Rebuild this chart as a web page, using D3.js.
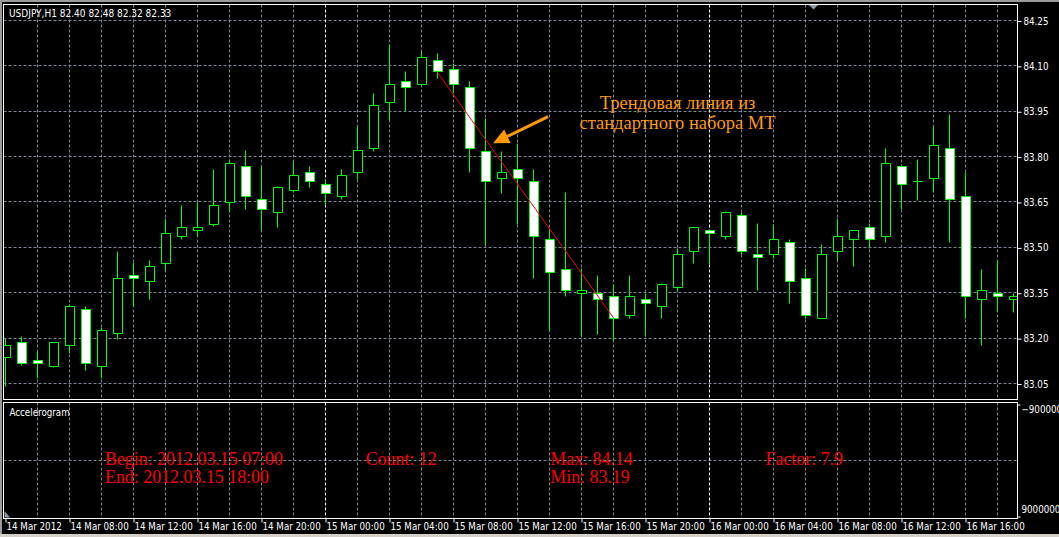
<!DOCTYPE html>
<html><head><meta charset="utf-8">
<script src="https://cdn.jsdelivr.net/npm/d3@7"></script>
<style>body{margin:0;background:#000;overflow:hidden} svg{display:block}</style>
</head><body>
<svg id="c" width="1059" height="537"></svg>
<script>
// ---------- DATA ----------
const headerText = "USDJPY,H1  82.40 82.48 82.32 82.33";
const indicatorName = "Accelerogram";
// hourly bars, index 0 = 14 Mar 2012 04:00
const openP  = [83.136,83.184,83.126,83.105,83.176,83.296,83.105,83.215,83.406,83.388,
                83.447,83.535,83.556,83.575,83.648,83.769,83.659,83.615,83.687,83.748,
                83.708,83.667,83.747,83.828,83.980,84.050,84.040,84.119,84.089,84.028,
                83.816,83.728,83.758,83.717,83.526,83.427,83.348,83.348,83.338,83.274,
                83.328,83.303,83.368,83.487,83.556,83.535,83.606,83.477,83.477,83.516,
                83.397,83.265,83.487,83.526,83.566,83.535,83.769,83.717,83.728,83.828,
                83.667,83.328,83.348,83.328];
const highP  = [83.199,83.207,83.156,83.187,83.311,83.306,83.235,83.487,83.450,83.458,
                83.596,83.637,83.647,83.759,83.789,83.819,83.767,83.700,83.783,83.769,
                83.723,83.759,83.899,84.010,84.170,84.081,84.148,84.140,84.109,84.050,
                83.927,83.816,83.844,83.758,83.559,83.681,83.431,83.408,83.378,83.408,
                83.348,83.379,83.497,83.567,83.557,83.617,83.615,83.578,83.576,83.526,
                83.431,83.508,83.596,83.557,83.579,83.828,83.770,83.789,83.901,83.939,
                83.748,83.428,83.458,83.348];
const lowP   = [83.039,83.110,83.067,83.104,83.149,83.094,83.067,83.196,83.306,83.328,
                83.425,83.525,83.535,83.570,83.615,83.626,83.555,83.566,83.680,83.699,
                83.640,83.659,83.723,83.816,83.920,83.949,84.039,84.059,84.010,83.747,
                83.505,83.679,83.574,83.397,83.226,83.337,83.204,83.213,83.190,83.265,
                83.210,83.265,83.356,83.447,83.445,83.525,83.477,83.356,83.464,83.315,
                83.265,83.264,83.456,83.436,83.497,83.515,83.626,83.656,83.681,83.515,
                83.265,83.174,83.287,83.284];
const closeP = [83.177,83.116,83.116,83.186,83.305,83.116,83.225,83.397,83.397,83.437,
                83.546,83.566,83.566,83.637,83.778,83.667,83.626,83.699,83.738,83.717,
                83.679,83.738,83.819,83.968,84.040,84.029,84.129,84.080,84.040,83.828,
                83.718,83.748,83.728,83.535,83.417,83.358,83.359,83.328,83.265,83.338,
                83.315,83.378,83.477,83.566,83.546,83.616,83.487,83.467,83.526,83.388,
                83.275,83.477,83.536,83.556,83.526,83.778,83.708,83.717,83.838,83.659,
                83.337,83.359,83.337,83.339];
const priceTicks = [84.25,84.10,83.95,83.80,83.65,83.50,83.35,83.20,83.05];
const timeTickIdx = [0,4,8,12,16,20,24,28,32,36,40,44,48,52,56,60];
const timeTickLabels = ["14 Mar 2012","14 Mar 08:00","14 Mar 12:00","14 Mar 16:00","14 Mar 20:00",
  "15 Mar 00:00","15 Mar 04:00","15 Mar 08:00","15 Mar 12:00","15 Mar 16:00","15 Mar 20:00",
  "16 Mar 00:00","16 Mar 04:00","16 Mar 08:00","16 Mar 12:00","16 Mar 16:00"];
const daySeparatorIdx = [20,44];
const indicatorTicks = [-9000000, 9000000];
const trendIdx = [27, 38];
const trendPrice = [84.078, 83.267];
const arrowIdx = [33.91, 30.47];
const arrowPrice = [83.932, 83.844];
const noteLines = ["Трендовая линия из", "стандартного набора МТ"];
const noteIdx = 42;
const notePrice = [83.958, 83.891];
const statsLine1 = ["Begin: 2012.03.15 07:00", "Count: 12", "Max: 84.14", "Factor: 7.9"];
const statsLine2 = ["End: 2012.03.15 18:00", "", "Min: 83.19", ""];

// ---------- LAYOUT ----------
const W = 1059, H = 537;
const L = 3.5, R = 1017.5, T = 4.5, B1 = 399.5, T2 = 402.5, B2 = 518.5;
const statsX = [105, 365.7, 550.3, 765.5];
const statsY = [464.5, 483.3];
const gridCol = "#7d8798";
const axisFont = "'DejaVu Sans Condensed','DejaVu Sans',sans-serif";

const svg = d3.select("#c");
const x = d3.scaleLinear().domain([0, 63]).range([5.5, 5.5 + 16 * 63]);
const y = d3.scaleLinear().domain([83.05, 84.25]).range([383.5, 20.5]);
const cr = v => Math.round(v - 0.5) + 0.5;

svg.append("rect").attr("width", W).attr("height", H).attr("fill", "#000");
svg.append("rect").attr("x",0).attr("y",0).attr("width",W).attr("height",2).attr("fill","#9c9c9c");
svg.append("rect").attr("x",0).attr("y",0).attr("width",2).attr("height",H).attr("fill","#9c9c9c");
svg.append("rect").attr("x",0).attr("y",534).attr("width",W).attr("height",3).attr("fill","#d4d0c8");

const defs = svg.append("defs");
defs.append("clipPath").attr("id","mainClip").append("rect")
  .attr("x", L + 0.5).attr("y", T + 0.5).attr("width", R - L - 1).attr("height", B1 - T - 1);

// grid
const g = svg.append("g");
g.selectAll("line.h").data(priceTicks).join("line")
  .attr("x1", L).attr("x2", R)
  .attr("y1", d => cr(y(d))).attr("y2", d => cr(y(d)))
  .attr("stroke", gridCol).attr("stroke-dasharray", "3,2");
g.append("line").attr("x1", L).attr("x2", R).attr("y1", 460.5).attr("y2", 460.5)
  .attr("stroke", gridCol).attr("stroke-dasharray", "3,2");
const vIdx = d3.range(2, 63, 2);
[[T, B1], [T2, B2]].forEach(([a, b]) => {
  g.selectAll(null).data(vIdx).join("line")
    .attr("x1", d => x(d)).attr("x2", d => x(d)).attr("y1", a).attr("y2", b)
    .attr("stroke", d => daySeparatorIdx.includes(d) ? "#ffffff" : gridCol)
    .attr("stroke-dasharray", "3,2");
});

// candles
const bars = d3.range(openP.length).map(i => ({i, o: openP[i], h: highP[i], l: lowP[i], c: closeP[i]}));
const cg = svg.append("g").attr("clip-path", "url(#mainClip)");
cg.selectAll("line.w").data(bars).join("line")
  .attr("x1", d => x(d.i)).attr("x2", d => x(d.i))
  .attr("y1", d => cr(y(d.h))).attr("y2", d => cr(y(d.l)))
  .attr("stroke", "#00ff00");
cg.selectAll("path.b").data(bars).join("path")
  .attr("d", d => {
    const x0 = x(d.i) - 4, x1 = x(d.i) + 5;
    const y0 = cr(y(Math.max(d.o, d.c))), y1 = cr(y(Math.min(d.o, d.c)));
    return `M${x0},${y0}H${x1}V${y1}H${x0}Z`;
  })
  .attr("fill", d => d.c < d.o ? "#ffffff" : "#000000")
  .attr("stroke", "#00ff00");

// trend line
cg.append("line")
  .attr("x1", x(trendIdx[0])).attr("y1", y(trendPrice[0]))
  .attr("x2", x(trendIdx[1])).attr("y2", y(trendPrice[1]))
  .attr("stroke", "#ff0000").attr("stroke-width", 1);

// arrow
{
  const sx = x(arrowIdx[0]), sy = y(arrowPrice[0]);
  const tx = x(arrowIdx[1]), ty = y(arrowPrice[1]);
  const dx = tx - sx, dy = ty - sy, len = Math.hypot(dx, dy);
  const ux = dx / len, uy = dy / len, px = -uy, py = ux;
  const hl = 16, hw = 7.5;
  const bx = tx - ux * hl, by = ty - uy * hl;
  svg.append("line").attr("x1", sx).attr("y1", sy).attr("x2", bx + ux * 2).attr("y2", by + uy * 2)
    .attr("stroke", "#ff9a00").attr("stroke-width", 3);
  svg.append("path")
    .attr("d", `M${tx},${ty}L${bx + px * hw},${by + py * hw}L${bx - px * hw},${by - py * hw}Z`)
    .attr("fill", "#ff9a00");
}

// note text
svg.selectAll("text.note").data(noteLines).join("text")
  .attr("x", x(noteIdx)).attr("y", (d, i) => y(notePrice[i]))
  .attr("text-anchor", "middle")
  .attr("font-family", "'Liberation Serif','Times New Roman',serif")
  .attr("font-size", 18.5).attr("fill", "#ff9a00").text(d => d);

// borders
svg.append("rect").attr("x", L).attr("y", T).attr("width", R - L).attr("height", B1 - T)
  .attr("fill", "none").attr("stroke", "#fff");
svg.append("rect").attr("x", L).attr("y", T2).attr("width", R - L).attr("height", B2 - T2)
  .attr("fill", "none").attr("stroke", "#fff");

// markers
svg.append("path").attr("d", "M809,5L818,5L813.5,9.5Z").attr("fill", "#8d9cb0");
svg.append("path").attr("d", "M4.5,511L4.5,517.5L10,517.5Z").attr("fill", "#8d9cb0");

// price axis
const ya = svg.append("g").attr("transform", `translate(${R},0.5)`)
  .call(d3.axisRight(y).tickValues(priceTicks).tickFormat(d3.format(".2f")).tickSize(4).tickPadding(2));
ya.select(".domain").remove();
ya.selectAll(".tick line").attr("stroke", "#fff");
ya.selectAll(".tick text").attr("fill", "#fff").attr("font-family", axisFont).attr("font-size", 9.7);

// indicator axis
const yi = d3.scaleLinear().domain([-9000000, 9000000]).range([404.5, 516.5]);
const ia = svg.append("g").attr("transform", `translate(${R},0)`)
  .call(d3.axisRight(yi).tickValues(indicatorTicks).tickFormat(d3.format("d")).tickSize(3).tickPadding(1));
ia.select(".domain").remove();
ia.selectAll(".tick line").attr("stroke", "#fff");
ia.selectAll(".tick text").attr("fill", "#fff").attr("font-family", axisFont).attr("font-size", 9.7)
  .attr("dy", (d, i) => i === 0 ? "0.85em" : "-0.4em");

// time axis
const xa = svg.append("g").attr("transform", `translate(0,${B2})`)
  .call(d3.axisBottom(x).tickValues(timeTickIdx).tickFormat((d, i) => timeTickLabels[i]).tickSize(4).tickPadding(2));
xa.select(".domain").remove();
xa.selectAll(".tick line").attr("stroke", "#fff");
xa.selectAll(".tick text").attr("fill", "#fff").attr("font-family", axisFont).attr("font-size", 9.7)
  .attr("text-anchor", "start").attr("dx", "0.5").attr("dy", "0.6em");

// header + indicator name
svg.append("text").attr("x", 9).attr("y", 16.5).attr("fill", "#fff")
  .attr("font-family", axisFont).attr("font-size", 10).text(headerText);
svg.append("text").attr("x", 9.5).attr("y", 415.5).attr("fill", "#fff")
  .attr("font-family", axisFont).attr("font-size", 9.7).text(indicatorName);

// stats
[statsLine1, statsLine2].forEach((row, r) => {
  svg.selectAll(null).data(row).join("text")
    .attr("x", (d, i) => statsX[i]).attr("y", statsY[r])
    .attr("font-family", "'Liberation Serif','Times New Roman',serif")
    .attr("font-size", 17.9).attr("fill", "#ff0000").text(d => d);
});
</script>
</body></html>
